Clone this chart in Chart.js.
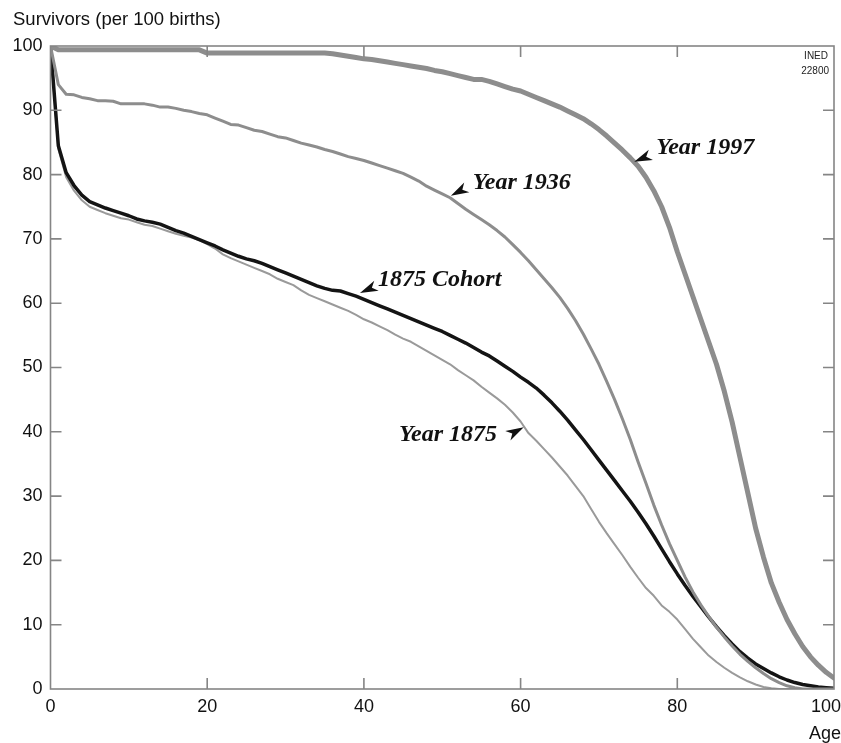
<!DOCTYPE html>
<html>
<head>
<meta charset="utf-8">
<script src="https://cdn.jsdelivr.net/npm/chart.js@4/dist/chart.umd.min.js"></script>
<style>
  html, body { margin: 0; padding: 0; background: #ffffff; }
  #wrap { width: 841px; height: 743px; position: relative; }
</style>
</head>
<body>
<div id="wrap"><canvas id="c" width="841" height="743"></canvas></div>
<script>
// ---------- DATA ----------
const ages = Array.from({ length: 101 }, (_, i) => i);

const xTickValues = [0, 20, 40, 60, 80, 100];
const yTickValues = [0, 10, 20, 30, 40, 50, 60, 70, 80, 90, 100];

const seriesNames = ["Year 1997", "Year 1936", "1875 Cohort", "Year 1875"];

const year1997 = [
  100, 99.4, 99.4, 99.4, 99.4, 99.4, 99.4, 99.4, 99.4, 99.4,
  99.4, 99.4, 99.4, 99.4, 99.4, 99.4, 99.4, 99.4, 99.4, 99.4,
  98.9, 98.9, 98.9, 98.9, 98.9, 98.9, 98.9, 98.9, 98.9, 98.9,
  98.9, 98.9, 98.9, 98.9, 98.9, 98.9, 98.8, 98.6, 98.4, 98.2,
  98.0, 97.9, 97.7, 97.5, 97.3, 97.1, 96.9, 96.7, 96.5, 96.2,
  96.0, 95.7, 95.4, 95.1, 94.8, 94.8, 94.5, 94.1, 93.7, 93.3,
  93.0, 92.5, 92.0, 91.5, 91.0, 90.5, 89.9, 89.3, 88.7, 87.9,
  87.0, 86.0, 84.9, 83.8, 82.6, 81.3, 79.6, 77.5, 75.0, 71.8,
  68.0, 64.5, 61.0, 57.5, 54.0, 50.5, 46.3, 41.5, 36.0, 30.5,
  25.0, 20.5, 16.5, 13.5, 10.8, 8.6, 6.6, 5.0, 3.7, 2.6,
  1.7
];

const year1936 = [
  100, 94.0, 92.5, 92.4, 92.0, 91.8, 91.5, 91.5, 91.4, 91.0,
  91.0, 91.0, 91.0, 90.8, 90.5, 90.5, 90.3, 90.0, 89.8, 89.5,
  89.3, 88.8, 88.3, 87.8, 87.7, 87.3, 86.9, 86.7, 86.3, 85.9,
  85.7, 85.3, 84.9, 84.6, 84.3, 83.9, 83.6, 83.2, 82.8, 82.5,
  82.2, 81.8, 81.4, 81.0, 80.6, 80.2, 79.6, 79.0, 78.2, 77.6,
  77.0, 76.4, 75.5, 74.6, 73.8, 73.0, 72.2, 71.3, 70.3, 69.1,
  67.9, 66.6, 65.2, 63.8, 62.4, 60.9, 59.2, 57.3, 55.2, 52.9,
  50.5, 47.8, 45.0, 42.0, 38.8, 35.3, 32.0, 28.6, 25.5, 22.6,
  20.0, 17.4, 15.1, 13.1, 11.3, 9.6, 8.1, 6.7, 5.4, 4.3,
  3.3, 2.4, 1.6, 1.0, 0.5, 0.2, 0, 0, 0, 0,
  0
];

const cohort1875 = [
  100, 84.5, 80.3, 78.3, 76.8, 75.8, 75.3, 74.8, 74.4, 74.0,
  73.6, 73.1, 72.8, 72.6, 72.3, 71.8, 71.3, 70.9, 70.4, 69.9,
  69.4, 68.9, 68.3, 67.8, 67.3, 66.9, 66.6, 66.2, 65.7, 65.2,
  64.7, 64.2, 63.7, 63.2, 62.7, 62.3, 62.0, 61.9, 61.5, 61.1,
  60.6, 60.1, 59.6, 59.1, 58.6, 58.1, 57.6, 57.1, 56.6, 56.1,
  55.6, 55.0, 54.4, 53.8, 53.1, 52.4, 51.8, 51.0, 50.2, 49.4,
  48.5, 47.7, 46.8, 45.7, 44.5, 43.2, 41.8, 40.3, 38.8, 37.2,
  35.6, 34.0, 32.4, 30.8, 29.2, 27.5, 25.7, 23.8, 21.8, 19.8,
  17.9, 16.1, 14.4, 12.8, 11.2, 9.7, 8.3, 7.0, 5.8, 4.8,
  3.9, 3.2, 2.5, 1.9, 1.4, 1.0, 0.7, 0.5, 0.3, 0.2,
  0.1
];

const year1875 = [
  100, 84.0, 79.6, 77.5, 76.0, 75.0, 74.5, 74.0, 73.6, 73.2,
  73.0, 72.6, 72.2, 72.0, 71.6, 71.2, 70.8, 70.5, 70.2, 69.8,
  69.2, 68.5, 67.6, 67.0, 66.5, 66.0, 65.5, 65.0, 64.5, 63.8,
  63.3, 62.8, 62.0, 61.3, 60.8, 60.3, 59.8, 59.3, 58.8, 58.2,
  57.5, 57.0, 56.4, 55.8, 55.1, 54.5, 54.0, 53.3, 52.6, 51.9,
  51.2, 50.5, 49.6, 48.8, 48.0, 47.0, 46.1, 45.2, 44.2, 43.0,
  41.6, 39.8, 38.6, 37.3, 36.0, 34.6, 33.2, 31.6, 30.0, 28.0,
  26.0, 24.2, 22.5, 20.8, 19.0, 17.3, 15.7, 14.5, 13.0, 12.0,
  10.8, 9.3, 7.8, 6.5, 5.2, 4.2, 3.3, 2.5, 1.8, 1.2,
  0.7, 0.3, 0.1, 0, 0, 0, 0, 0, 0, 0,
  0
];

// ---------- ANNOTATIONS (label text + where they point, in data units) ----------
const labelTexts = ["Year 1997", "Year 1936", "1875 Cohort", "Year 1875"];
const labelAnchors = [ // [textAge, textValue]
  [77.3, 84.1], [53.9, 78.8], [41.8, 63.6], [57.0, 39.5]
];
const arrowTips = [ // [age, value]
  [74.5, 82.0], [51.1, 76.7], [39.5, 61.6], [60.4, 40.7]
];

// ---------- STYLE ----------
const FRAME = '#858585';
const SANS = '"Liberation Sans", Arial, Helvetica, sans-serif';
const styleOf = {
  "Year 1997":   { color: '#8d8d8d', width: 5,   order: 0 },
  "Year 1936":   { color: '#8d8d8d', width: 3,   order: 1 },
  "1875 Cohort": { color: '#141414', width: 3.5, order: 2 },
  "Year 1875":   { color: '#9a9a9a', width: 2,   order: 3 }
};
const labelStyle = [
  { align: 'left',  dir: [17, -7] },
  { align: 'left',  dir: [17, -9] },
  { align: 'left',  dir: [16, -7] },
  { align: 'right', dir: [-15, 8] }
];

const seriesValues = [year1997, year1936, cohort1875, year1875];

const datasets = seriesNames.map((name, k) => ({
  label: name,
  data: ages.map((a, i) => ({ x: a, y: seriesValues[k][i] })),
  borderColor: styleOf[name].color,
  borderWidth: styleOf[name].width,
  order: styleOf[name].order,
  pointRadius: 0,
  tension: 0,
  fill: false,
  borderJoinStyle: 'round',
  borderCapStyle: 'round'
}));

const decor = {
  id: 'decor',
  afterDatasetsDraw(chart) {
    const { ctx, chartArea: a, scales: { x, y }, width: W } = chart;
    ctx.save();
    // frame
    ctx.strokeStyle = FRAME;
    ctx.lineWidth = 1.6;
    ctx.strokeRect(a.left, a.top, a.right - a.left, a.bottom - a.top);
    // inward ticks on all four sides
    const TL = 11;
    ctx.beginPath();
    xTickValues.forEach(v => {
      if (v <= x.min || v >= x.max) return;
      const px = x.getPixelForValue(v);
      ctx.moveTo(px, a.bottom); ctx.lineTo(px, a.bottom - TL);
      ctx.moveTo(px, a.top); ctx.lineTo(px, a.top + TL);
    });
    yTickValues.forEach(v => {
      if (v <= y.min || v >= y.max) return;
      const py = y.getPixelForValue(v);
      ctx.moveTo(a.left, py); ctx.lineTo(a.left + TL, py);
      ctx.moveTo(a.right, py); ctx.lineTo(a.right - TL, py);
    });
    ctx.stroke();

    // x tick labels (kept inside the canvas at the right edge)
    ctx.fillStyle = '#111';
    ctx.font = '18px ' + SANS;
    ctx.textBaseline = 'middle';
    ctx.textAlign = 'center';
    xTickValues.forEach(v => {
      const s = String(v);
      const w = ctx.measureText(s).width;
      let px = x.getPixelForValue(v);
      px = Math.min(px, W - w / 2);
      ctx.fillText(s, px, a.bottom + 18);
    });

    // axis titles
    ctx.font = '18.5px ' + SANS;
    ctx.textAlign = 'left';
    ctx.fillText('Survivors (per 100 births)', 13, 20);
    ctx.font = '18px ' + SANS;
    ctx.textAlign = 'right';
    ctx.fillText('Age', 841, 734);

    // INED stamp
    ctx.font = '10px ' + SANS;
    ctx.fillStyle = '#222';
    ctx.fillText('INED', a.right - 6, a.top + 10);
    ctx.fillText('22800', a.right - 5, a.top + 25);

    // curve labels with arrowheads
    ctx.font = 'italic bold 24px "Liberation Serif", "Times New Roman", serif';
    ctx.fillStyle = '#111';
    labelTexts.forEach((t, i) => {
      const tx = x.getPixelForValue(labelAnchors[i][0]);
      const ty = y.getPixelForValue(labelAnchors[i][1]);
      ctx.textAlign = labelStyle[i].align;
      ctx.textBaseline = 'middle';
      ctx.fillText(t, tx, ty);
      // arrowhead
      const px = x.getPixelForValue(arrowTips[i][0]);
      const py = y.getPixelForValue(arrowTips[i][1]);
      const [dx, dy] = labelStyle[i].dir;
      const len = Math.hypot(dx, dy);
      const ux = dx / len, uy = dy / len;
      const nx = -uy, ny = ux;
      const L = 18, HW = 5.5;
      ctx.beginPath();
      ctx.moveTo(px, py);
      ctx.lineTo(px + ux * L + nx * HW, py + uy * L + ny * HW);
      ctx.lineTo(px + ux * L * 0.72, py + uy * L * 0.72);
      ctx.lineTo(px + ux * L - nx * HW, py + uy * L - ny * HW);
      ctx.closePath();
      ctx.fill();
    });
    ctx.restore();
  }
};

new Chart(document.getElementById('c'), {
  type: 'line',
  data: { datasets },
  options: {
    responsive: false,
    animation: false,
    devicePixelRatio: 1,
    layout: { padding: { top: 46, right: 7, bottom: 0, left: 0 } },
    plugins: { legend: { display: false }, tooltip: { enabled: false }, title: { display: false } },
    scales: {
      x: {
        type: 'linear', min: 0, max: 100,
        afterBuildTicks: s => { s.ticks = xTickValues.map(v => ({ value: v })); },
        afterFit: s => { s.height = 54; s.paddingLeft = 0; s.paddingRight = 0; },
        grid: { display: false, drawTicks: false },
        border: { display: false },
        ticks: { display: false }
      },
      y: {
        type: 'linear', min: 0, max: 100,
        afterBuildTicks: s => { s.ticks = yTickValues.map(v => ({ value: v })); },
        afterFit: s => { s.width = 50.5; s.paddingTop = 0; s.paddingBottom = 0; },
        grid: { display: false, drawTicks: false },
        border: { display: false },
        ticks: { color: '#111', padding: 8, autoSkip: false,
                 font: { family: '"Liberation Sans", Arial, Helvetica, sans-serif', size: 18 } }
      }
    }
  },
  plugins: [decor]
});
</script>
</body>
</html>
